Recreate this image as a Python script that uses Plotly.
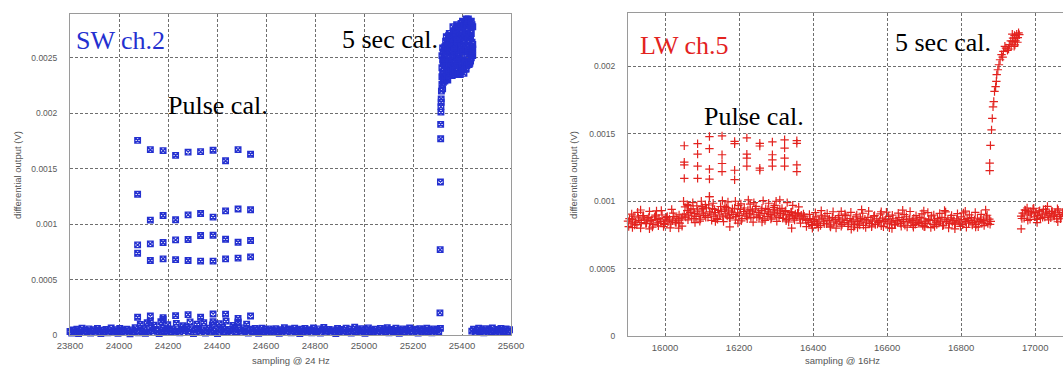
import plotly.graph_objects as go

# ---------------- data : SW ch.2 (left panel), values in microvolts ----------------
sw_x_ticks = [23800, 24000, 24200, 24400, 24600, 24800, 25000, 25200, 25400, 25600]
sw_x_labels = ["23800", "24000", "24200", "24400", "24600", "24800", "25000", "25200", "25400", "25600"]
sw_y_ticks = [0, 0.0005, 0.001, 0.0015, 0.002, 0.0025]
sw_y_labels = ["0", "0.0005", "0.001", "0.0015", "0.002", "0.0025"]

sw_base1_start, sw_base1_step = 23800, 7
sw_base1_uv = [
    32, 18, 45, 27, 52, 14, 38, 61, 22, 41, 29, 55, 17, 36, 48, 24, 60, 33, 12, 44,
    27, 50, 19, 39, 63, 25, 34, 47, 15, 58, 30, 42, 21, 53, 37, 11, 46, 28, 66, 35,
    20, 95, 31, 57, 16, 110, 26, 62, 38, 88, 51, 34, 13, 120, 59, 29, 40, 92, 54, 32,
    47, 22, 105, 36, 19, 52, 84, 41, 70, 25, 118, 56, 14, 44, 97, 60, 23, 48, 112, 17,
    39, 61, 26, 90, 33, 55, 12, 102, 45, 67, 28, 125, 37, 50, 21, 86, 58, 30, 108, 43,
    24, 64, 35, 98, 18, 53, 40, 27, 59, 46, 15, 38, 62, 29, 49, 21, 55, 34, 44, 26,
    57, 31, 16, 48, 39, 65, 23, 42, 54, 19, 36, 61, 28, 45, 13, 52, 33, 58, 25, 40,
    47, 20, 63, 34, 29, 55, 17, 43, 68, 26, 38, 51, 22, 46, 35, 14, 59, 31, 49, 24,
    41, 62, 27, 53, 18, 36, 70, 30, 45, 23, 57, 39, 15, 48, 64, 28, 42, 33, 52, 21,
    37, 58, 24, 46, 31, 66, 19, 50, 40, 27, 61, 35, 16, 44, 55, 29, 48, 22, 63, 38,
    26, 53, 41, 18, 57, 34, 47, 25, 62, 30, 43, 20, 55, 38, 49, 28, 60,
]
sw_base2_start, sw_base2_step = 25440, 7
sw_base2_uv = [35, 52, 24, 46, 61, 30, 41, 19, 56, 37, 48, 27, 63, 33, 22, 50, 44, 58, 29, 39, 54, 31, 47]

sw_pulse_x = [24076, 24128, 24180, 24231, 24282, 24333, 24384, 24435, 24486, 24537]
sw_pulse_top = [1756, 1672, 1663, 1620, 1650, 1654, 1666, 1572, 1672, 1630]
sw_pulse_hi = [1270, 1036, 1078, 1039, 1084, 1096, 1063, 1120, 1136, 1130]
sw_pulse_mid = [813, 822, 834, 858, 861, 898, 900, 864, 837, 852]
sw_pulse_low = [738, 672, 687, 680, 672, 666, 666, 687, 693, 705]
sw_pulse_base = [160, 172, 157, 175, 184, 160, 190, 188, 150, 172]
sw_pulse_extra_x = [24128, 24180, 24384, 24486]
sw_pulse_extra_uv = [125, 140, 120, 118]

sw_rise_x = [25310, 25311, 25312, 25313, 25313, 25314, 25314, 25315, 25315, 25316]
sw_rise_uv = [200, 770, 1380, 1770, 1900, 2010, 2060, 2100, 2130, 2200]

sw_cloud_start, sw_cloud_step = 25318, 3
sw_cloud_a = [2410, 2590, 2330, 2520, 2600, 2470, 2690, 2380, 2640, 2560, 2720, 2450, 2610, 2700, 2390, 2780,
              2520, 2660, 2740, 2430, 2800, 2590, 2700, 2360, 2770, 2640, 2810, 2480, 2830, 2700, 2420, 2790,
              2610, 2850, 2520, 2760, 2680, 2830, 2560, 2790, 2720, 2640, 2780]
sw_cloud_b = [2260, 2480, 2550, 2300, 2430, 2650, 2320, 2580, 2470, 2700, 2350, 2630, 2510, 2420, 2680, 2560,
              2350, 2730, 2470, 2620, 2380, 2760, 2500, 2680, 2610, 2420, 2720, 2560, 2390, 2780, 2660, 2470,
              2820, 2400, 2740, 2600, 2460, 2700, 2810, 2540, 2600, 2800, 2520]
sw_cloud_c = [2520, 2350, 2280, 2590, 2500, 2360, 2560, 2650, 2300, 2480, 2610, 2380, 2690, 2560, 2340, 2640,
              2720, 2450, 2580, 2760, 2530, 2400, 2650, 2790, 2450, 2580, 2380, 2740, 2650, 2480, 2820, 2560,
              2450, 2720, 2800, 2440, 2850, 2580, 2450, 2700, 2500, 2560, 2620]
sw_cloud_d = [2330, 2220, 2460, 2400, 2290, 2570, 2420, 2310, 2600, 2350, 2460, 2680, 2420, 2590, 2500, 2380,
              2610, 2560, 2390, 2690, 2460, 2640, 2350, 2520, 2700, 2350, 2600, 2410, 2700, 2550, 2360, 2680,
              2400, 2580, 2430, 2650, 2560, 2440, 2680, 2470, 2830, 2530, 2580]

# ---------------- data : LW ch.5 (right panel), values in microvolts ----------------
lw_x_ticks = [16000, 16200, 16400, 16600, 16800, 17000]
lw_x_labels = ["16000", "16200", "16400", "16600", "16800", "17000"]
lw_y_ticks = [0, 0.0005, 0.001, 0.0015, 0.002]
lw_y_labels = ["0", "0.0005", "0.001", "0.0015", "0.002"]

lw_segA_start, lw_step = 15900, 4
lw_segA_uv = [852, 871, 838, 864, 889, 845, 826, 877, 858, 842, 893, 861, 834, 869, 880, 848, 857, 829, 884, 866,
              840, 873, 851, 898, 836, 862, 879, 847, 868, 831, 855, 886, 843, 875, 859, 838, 870, 883]
lw_segB_start = 16052
lw_segB_uv = [905, 882, 931, 896, 918, 874, 944, 909, 887, 926, 899, 868, 937, 912, 893, 951, 880, 921, 904, 946,
              889, 915, 872, 933, 898, 925, 884, 942, 907, 891, 928, 876, 919, 902, 948, 886, 913, 895, 939, 871,
              924, 906, 890, 935, 911, 879, 927, 900, 943, 884, 917, 896, 932, 869, 908, 945, 888, 921, 903, 877,
              936, 914, 892, 929, 881, 910, 947, 898, 923, 866, 902, 884, 918, 895, 871, 906, 883, 912, 874, 896,
              868, 889, 861]
lw_segC_start = 16384
lw_segC_uv = [858, 843, 872, 829, 866, 851, 884, 837, 862, 819, 875, 848, 890, 833, 857, 869, 824, 881, 846, 863,
              838, 877, 852, 815, 868, 841, 893, 856, 830, 871, 847, 862, 826, 884, 850, 837, 873, 859, 821, 866,
              845, 880, 834, 861, 852, 889, 828, 869, 843, 856, 817, 875, 849, 864, 832, 887, 853, 840, 870, 825,
              858, 846, 879, 836, 863, 851, 822, 885, 847, 868, 839, 856, 874, 829, 862, 843, 881, 853, 819, 870,
              848, 834, 866, 857, 891, 827, 860, 845, 873, 838, 852, 880, 823, 867, 849, 862, 835, 876, 844, 858,
              831, 869, 853, 840, 884, 826, 863, 849, 872, 837, 856, 879, 842, 861, 828, 874, 851, 865, 839, 857,
              846, 883, 834, 868, 850]
lw_segD_start = 16962
lw_segD_uv = [889, 912, 874, 931, 898, 921, 866, 907, 943, 884, 915, 893, 927, 871, 904, 938, 882, 919, 896, 908,
              877, 925, 890, 913, 869, 934, 901, 886, 917]

# second interleaved pass of the noisy baseline (wider spread)
lw_band2_start, lw_band2_step = 15902, 8
lw_band2_uv = [812, 905, 824, 918, 801, 892, 836, 925, 808, 897, 818, 931, 829, 887, 803, 912, 842, 899, 815,
               958, 862, 941, 871, 965, 852, 947, 880, 972, 858, 939, 866, 961, 849, 953, 875, 944, 861, 968, 854,
               950, 870, 936, 845, 962, 879, 948, 857, 940, 868, 955, 851, 943, 873, 930, 846, 921, 860, 912, 838,
               905,
               812, 902, 821, 915, 806, 896, 833, 909, 816, 922, 801, 893, 828, 905, 814, 918, 809, 899, 823, 911,
               804, 927, 818, 894, 831, 906, 811, 919, 803, 897, 826, 912, 815, 901, 808, 924, 820, 893, 834, 907,
               812, 916, 805, 898, 827, 910, 817, 921, 802, 895, 830, 908, 813, 914, 806, 899, 824, 917, 810, 903,
               819, 896, 829]
lw_band2b_start = 16964
lw_band2b_uv = [872, 936, 858, 921, 948, 866, 929, 881, 941, 862, 925, 890, 944, 870]

lw_outer_x = [15912, 15934, 15958, 15977, 15996, 16018, 16037, 16063, 16081, 16109, 16136, 16162, 16197, 16230,
              16262, 16296, 16327, 16361, 16398, 16422, 16447, 16476, 16503, 16531, 16558, 16584, 16613, 16642,
              16671, 16699, 16728, 16755, 16783, 16811, 16839, 16866, 16978, 17005, 17033, 17061]
lw_outer_uv = [805, 935, 795, 928, 812, 940, 801, 968, 842, 975, 850, 962, 838, 978, 846, 970, 855, 958, 800, 930,
               808, 925, 792, 938, 810, 922, 798, 934, 806, 928, 812, 931, 795, 926, 808, 936, 950, 842, 962, 848]

lw_scatter_x = [16050, 16060, 16075, 16098, 16100, 16120, 16130, 16155, 16170, 16175, 16190, 16205, 16225, 16240,
                16265, 16280, 16300, 16310, 16330, 16342, 16345, 16410, 16520, 16700, 16962]
lw_scatter_uv = [1000, 975, 990, 1000, 960, 1035, 985, 1005, 995, 810, 1000, 980, 1010, 990,
                 1005, 985, 1000, 1010, 990, 800, 970, 830, 805, 810, 795]

lw_pulse_x = [16052, 16088, 16120, 16154, 16188, 16221, 16256, 16290, 16323, 16356]
lw_pulse_1 = [1412, 1427, 1480, 1485, 1444, 1470, 1430, 1440, 1456, 1450]
lw_pulse_2 = [1290, 1350, 1390, 1345, 1427, 1350, 1410, 1345, 1394, 1430]
lw_pulse_3 = [1270, 1260, 1238, 1280, 1230, 1320, 1246, 1307, 1320, 1270]
lw_pulse_4 = [1170, 1170, 1164, 1220, 1160, 1260, 1230, 1260, 1260, 1220]
lw_pulse_extra_x = [16120]
lw_pulse_extra_uv = [1035]

lw_rise_x = [16877, 16877, 16879, 16882, 16884, 16886, 16888, 16890, 16893, 16895, 16896, 16899, 16902, 16905,
             16909, 16912, 16914, 16918, 16921, 16925, 16928, 16930, 16934, 16935, 16938, 16939, 16940, 16943,
             16944, 16945, 16947, 16948, 16950, 16952, 16953, 16955, 16957]
lw_rise_uv = [1228, 1283, 1414, 1530, 1615, 1700, 1740, 1815, 1850, 1890, 1940, 1976, 2013, 2050,
              2088, 2070, 2112, 2150, 2137, 2120, 2130, 2162, 2190, 2150, 2240, 2187, 2210, 2150,
              2230, 2160, 2190, 2212, 2240, 2180, 2215, 2250, 2236]

# ---------------- helpers ----------------
def uv(vals):
    return [v * 1e-6 for v in vals]

def seq(start, step, vals):
    return [start + step * i for i in range(len(vals))]

W, H = 1063, 367
def px(x):
    return x / W
def py(y):
    return 1 - y / H

BLUE = "#2430d0"
RED = "#e3231f"

sw_marker = dict(symbol="square-x-open", size=5.5, color=BLUE, line=dict(color=BLUE, width=1.4))
lw_marker = dict(symbol="cross-thin-open", size=6, color=RED, line=dict(color=RED, width=1.2))

fig = go.Figure()

def add(x, y, marker, xa, ya):
    fig.add_trace(go.Scatter(x=x, y=y, mode="markers", marker=marker, xaxis=xa, yaxis=ya,
                             cliponaxis=False, hoverinfo="skip", showlegend=False))

# left panel
add(seq(sw_base1_start, sw_base1_step, sw_base1_uv), uv(sw_base1_uv), sw_marker, "x", "y")
add(seq(sw_base2_start, sw_base2_step, sw_base2_uv), uv(sw_base2_uv), sw_marker, "x", "y")
for lvl in [sw_pulse_top, sw_pulse_hi, sw_pulse_mid, sw_pulse_low, sw_pulse_base]:
    add(sw_pulse_x, uv(lvl), sw_marker, "x", "y")
add(sw_pulse_extra_x, uv(sw_pulse_extra_uv), sw_marker, "x", "y")
add(sw_rise_x, uv(sw_rise_uv), sw_marker, "x", "y")
for c in [sw_cloud_a, sw_cloud_b, sw_cloud_c, sw_cloud_d]:
    add(seq(sw_cloud_start, sw_cloud_step, c), uv(c), sw_marker, "x", "y")

# right panel
add(seq(lw_segA_start, lw_step, lw_segA_uv), uv(lw_segA_uv), lw_marker, "x2", "y2")
add(seq(lw_segB_start, lw_step, lw_segB_uv), uv(lw_segB_uv), lw_marker, "x2", "y2")
add(seq(lw_segC_start, lw_step, lw_segC_uv), uv(lw_segC_uv), lw_marker, "x2", "y2")
add(seq(lw_segD_start, lw_step, lw_segD_uv), uv(lw_segD_uv), lw_marker, "x2", "y2")
add(seq(lw_band2_start, lw_band2_step, lw_band2_uv), uv(lw_band2_uv), lw_marker, "x2", "y2")
add(seq(lw_band2b_start, lw_band2_step, lw_band2b_uv), uv(lw_band2b_uv), lw_marker, "x2", "y2")
add(lw_outer_x, uv(lw_outer_uv), lw_marker, "x2", "y2")
add(lw_scatter_x, uv(lw_scatter_uv), lw_marker, "x2", "y2")
for lvl in [lw_pulse_1, lw_pulse_2, lw_pulse_3, lw_pulse_4]:
    add(lw_pulse_x, uv(lvl), lw_marker, "x2", "y2")
add(lw_pulse_extra_x, uv(lw_pulse_extra_uv), lw_marker, "x2", "y2")
add(lw_rise_x, uv(lw_rise_uv), lw_marker, "x2", "y2")

tickfont_x = dict(family="Liberation Sans, Arial, sans-serif", size=9.5, color="#5a5a5a")
tickfont_y = dict(family="Liberation Sans, Arial, sans-serif", size=8.5, color="#5a5a5a")
grid = dict(showgrid=True, gridcolor="#6e6e6e", gridwidth=1, griddash="3px,2px", zeroline=False,
            showline=True, linecolor="#9a9a9a", linewidth=1, ticks="", automargin=False)

fig.update_layout(
    width=W, height=H, margin=dict(l=0, r=0, t=0, b=0, pad=0, autoexpand=False),
    paper_bgcolor="white", plot_bgcolor="white", showlegend=False,
    xaxis=dict(domain=[px(70), px(511)], range=[23800, 25600], tickvals=sw_x_ticks, ticktext=sw_x_labels,
               tickfont=tickfont_x, mirror=True, anchor="y", ticklabelstandoff=2, **grid),
    yaxis=dict(domain=[py(335), py(13.5)], range=[0, 0.0029], tickvals=sw_y_ticks, ticktext=sw_y_labels,
               tickfont=tickfont_y, mirror=True, anchor="x", ticklabelstandoff=10, **grid),
    xaxis2=dict(domain=[px(628), 1.0], range=[15900, 17075], tickvals=lw_x_ticks, ticktext=lw_x_labels,
                tickfont=tickfont_x, mirror=True, anchor="y2", ticklabelstandoff=3, **grid),
    yaxis2=dict(domain=[py(336), py(12.6)], range=[0, 0.0024], tickvals=lw_y_ticks, ticktext=lw_y_labels,
                tickfont=tickfont_y, mirror=False, anchor="x2", ticklabelstandoff=10, **grid),
)

serif = "Liberation Serif, Times New Roman, serif"
sans = "Liberation Sans, Arial, sans-serif"
annots = [
    ("SW ch.2", 120, 40, serif, 26, BLUE, 0),
    ("5 sec cal.", 390, 39, serif, 26, "black", 0),
    ("Pulse cal.", 218, 105, serif, 26, "black", 0),
    ("LW ch.5", 684, 45, serif, 26, RED, 0),
    ("5 sec cal.", 943, 42, serif, 26, "black", 0),
    ("Pulse cal.", 754, 117, serif, 26, "black", 0),
    ("sampling @ 24 Hz", 291, 360, sans, 9.5, "#555555", 0),
    ("sampling @ 16Hz", 842, 360, sans, 9.5, "#555555", 0),
    ("differential output (V)", 17, 175, sans, 9.5, "#555555", -90),
    ("differential output (V)", 573, 175, sans, 9.5, "#555555", -90),
]
for text, x, y, fam, size, col, ang in annots:
    fig.add_annotation(text=text, x=px(x), y=py(y), xref="paper", yref="paper", showarrow=False,
                       xanchor="center", yanchor="middle", textangle=ang,
                       font=dict(family=fam, size=size, color=col))

fig.write_html("out.html",
               config=dict(displayModeBar=False, staticPlot=True),
               post_script="document.body.style.margin='0';document.body.style.padding='0';"
                           "document.documentElement.style.overflow='hidden';")
